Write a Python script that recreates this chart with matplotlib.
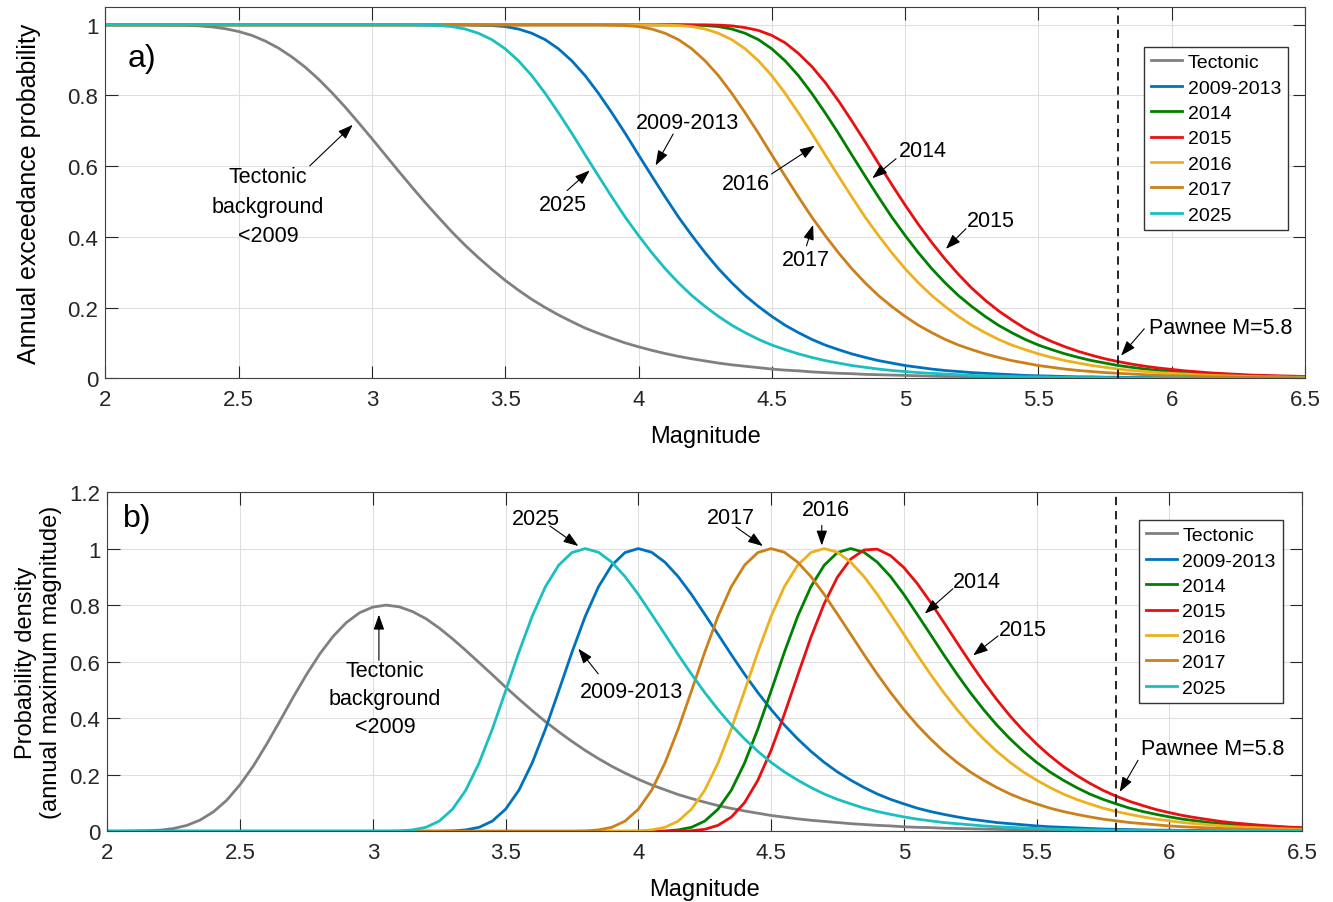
import numpy as np
import matplotlib.pyplot as plt

plt.rcParams['font.family'] = ['Liberation Sans', 'DejaVu Sans']

# magnitude samples (2.0 to 6.5, every 0.05)
mag = np.linspace(2.0, 6.5, 91)

labels = ['Tectonic', '2009-2013', '2014', '2015', '2016', '2017', '2025']
colors = ['#808080', '#0072BD', '#008000', '#E81010', '#EDB120', '#CC801A', '#1ABFBF']

# a) annual exceedance probability
exceed_tectonic = [
    1.000, 1.000, 1.000, 1.000, 1.000, 0.999, 0.999, 0.997, 0.994, 0.989,
    0.981, 0.970, 0.954, 0.934, 0.909, 0.880, 0.846, 0.808, 0.767, 0.723,
    0.678, 0.632, 0.586, 0.541, 0.497, 0.455, 0.414, 0.376, 0.341, 0.308,
    0.277, 0.249, 0.223, 0.200, 0.179, 0.160, 0.142, 0.127, 0.113, 0.100,
    0.089, 0.079, 0.070, 0.062, 0.055, 0.049, 0.043, 0.038, 0.034, 0.030,
    0.026, 0.023, 0.021, 0.018, 0.016, 0.014, 0.013, 0.011, 0.010, 0.009,
    0.008, 0.007, 0.006, 0.005, 0.005, 0.004, 0.004, 0.003, 0.003, 0.002,
    0.002, 0.002, 0.002, 0.001, 0.001, 0.001, 0.001, 0.001, 0.001, 0.001,
    0.001, 0.001, 0, 0, 0, 0, 0, 0, 0, 0,
    0]
exceed_0913 = [
    1, 1, 1, 1, 1, 1, 1, 1, 1, 1,
    1, 1, 1, 1, 1, 1, 1, 1, 1, 1,
    1, 1, 1, 1, 1, 1, 1, 1, 0.999, 0.998,
    0.995, 0.988, 0.976, 0.958, 0.932, 0.898, 0.856, 0.806, 0.751, 0.693,
    0.632, 0.572, 0.513, 0.456, 0.404, 0.355, 0.310, 0.270, 0.234, 0.203,
    0.175, 0.150, 0.129, 0.110, 0.094, 0.081, 0.069, 0.059, 0.050, 0.043,
    0.036, 0.031, 0.026, 0.022, 0.019, 0.016, 0.014, 0.012, 0.010, 0.008,
    0.007, 0.006, 0.005, 0.004, 0.004, 0.003, 0.003, 0.002, 0.002, 0.002,
    0.001, 0.001, 0.001, 0.001, 0.001, 0.001, 0, 0, 0, 0,
    0]
exceed_2014 = [
    1, 1, 1, 1, 1, 1, 1, 1, 1, 1,
    1, 1, 1, 1, 1, 1, 1, 1, 1, 1,
    1, 1, 1, 1, 1, 1, 1, 1, 1, 1,
    1, 1, 1, 1, 1, 1, 1, 1, 1, 1,
    1, 1, 1, 1, 0.999, 0.998, 0.995, 0.988, 0.976, 0.958,
    0.932, 0.898, 0.856, 0.806, 0.751, 0.693, 0.632, 0.572, 0.513, 0.456,
    0.404, 0.355, 0.310, 0.270, 0.234, 0.203, 0.175, 0.150, 0.129, 0.110,
    0.094, 0.081, 0.069, 0.059, 0.050, 0.043, 0.036, 0.031, 0.026, 0.022,
    0.019, 0.016, 0.014, 0.012, 0.010, 0.008, 0.007, 0.006, 0.005, 0.004,
    0.004]
exceed_2015 = [
    1, 1, 1, 1, 1, 1, 1, 1, 1, 1,
    1, 1, 1, 1, 1, 1, 1, 1, 1, 1,
    1, 1, 1, 1, 1, 1, 1, 1, 1, 1,
    1, 1, 1, 1, 1, 1, 1, 1, 1, 1,
    1, 1, 1, 1, 1, 1, 0.999, 0.997, 0.992, 0.984,
    0.970, 0.949, 0.919, 0.882, 0.837, 0.785, 0.728, 0.669, 0.608, 0.548,
    0.490, 0.435, 0.384, 0.337, 0.294, 0.255, 0.221, 0.191, 0.165, 0.141,
    0.121, 0.104, 0.089, 0.076, 0.065, 0.055, 0.047, 0.040, 0.034, 0.029,
    0.025, 0.021, 0.018, 0.015, 0.013, 0.011, 0.009, 0.008, 0.007, 0.006,
    0.005]
exceed_2016 = [
    1, 1, 1, 1, 1, 1, 1, 1, 1, 1,
    1, 1, 1, 1, 1, 1, 1, 1, 1, 1,
    1, 1, 1, 1, 1, 1, 1, 1, 1, 1,
    1, 1, 1, 1, 1, 1, 1, 1, 1, 1,
    1, 1, 0.999, 0.998, 0.995, 0.988, 0.976, 0.958, 0.932, 0.898,
    0.856, 0.806, 0.751, 0.693, 0.632, 0.572, 0.513, 0.456, 0.404, 0.355,
    0.310, 0.270, 0.234, 0.203, 0.175, 0.150, 0.129, 0.110, 0.094, 0.081,
    0.069, 0.059, 0.050, 0.043, 0.036, 0.031, 0.026, 0.022, 0.019, 0.016,
    0.014, 0.012, 0.010, 0.008, 0.007, 0.006, 0.005, 0.004, 0.004, 0.003,
    0.003]
exceed_2017 = [
    1, 1, 1, 1, 1, 1, 1, 1, 1, 1,
    1, 1, 1, 1, 1, 1, 1, 1, 1, 1,
    1, 1, 1, 1, 1, 1, 1, 1, 1, 1,
    1, 1, 1, 1, 1, 1, 1, 1, 0.999, 0.998,
    0.995, 0.988, 0.976, 0.958, 0.932, 0.898, 0.856, 0.806, 0.751, 0.693,
    0.632, 0.572, 0.513, 0.456, 0.404, 0.355, 0.310, 0.270, 0.234, 0.203,
    0.175, 0.150, 0.129, 0.110, 0.094, 0.081, 0.069, 0.059, 0.050, 0.043,
    0.036, 0.031, 0.026, 0.022, 0.019, 0.016, 0.014, 0.012, 0.010, 0.008,
    0.007, 0.006, 0.005, 0.004, 0.004, 0.003, 0.003, 0.002, 0.002, 0.002,
    0.001]
exceed_2025 = [
    1, 1, 1, 1, 1, 1, 1, 1, 1, 1,
    1, 1, 1, 1, 1, 1, 1, 1, 1, 1,
    1, 1, 1, 1, 0.999, 0.998, 0.995, 0.988, 0.976, 0.958,
    0.932, 0.898, 0.856, 0.806, 0.751, 0.693, 0.632, 0.572, 0.513, 0.456,
    0.404, 0.355, 0.310, 0.270, 0.234, 0.203, 0.175, 0.150, 0.129, 0.110,
    0.094, 0.081, 0.069, 0.059, 0.050, 0.043, 0.036, 0.031, 0.026, 0.022,
    0.019, 0.016, 0.014, 0.012, 0.010, 0.008, 0.007, 0.006, 0.005, 0.004,
    0.004, 0.003, 0.003, 0.002, 0.002, 0.002, 0.001, 0.001, 0.001, 0.001,
    0.001, 0.001, 0, 0, 0, 0, 0, 0, 0, 0,
    0]

# b) probability density of annual maximum magnitude
density_tectonic = [
    0, 0, 0.001, 0.002, 0.004, 0.010, 0.021, 0.040, 0.069, 0.110,
    0.165, 0.231, 0.308, 0.390, 0.474, 0.554, 0.627, 0.689, 0.738, 0.773,
    0.793, 0.800, 0.794, 0.777, 0.752, 0.719, 0.681, 0.640, 0.597, 0.554,
    0.510, 0.468, 0.427, 0.388, 0.352, 0.318, 0.286, 0.257, 0.230, 0.206,
    0.184, 0.164, 0.147, 0.130, 0.116, 0.103, 0.091, 0.081, 0.072, 0.064,
    0.056, 0.050, 0.044, 0.039, 0.035, 0.031, 0.027, 0.024, 0.021, 0.019,
    0.016, 0.014, 0.013, 0.011, 0.010, 0.009, 0.008, 0.007, 0.006, 0.005,
    0.005, 0.004, 0.004, 0.003, 0.003, 0.003, 0.002, 0.002, 0.002, 0.002,
    0.001, 0.001, 0.001, 0.001, 0.001, 0.001, 0.001, 0.001, 0, 0,
    0]
density_0913 = [
    0, 0, 0, 0, 0, 0, 0, 0, 0, 0,
    0, 0, 0, 0, 0, 0, 0, 0, 0, 0,
    0, 0, 0, 0, 0, 0, 0.001, 0.005, 0.014, 0.036,
    0.078, 0.145, 0.241, 0.361, 0.496, 0.633, 0.760, 0.865, 0.941, 0.986,
    1.000, 0.987, 0.952, 0.901, 0.838, 0.768, 0.697, 0.625, 0.556, 0.491,
    0.431, 0.376, 0.327, 0.283, 0.244, 0.210, 0.181, 0.155, 0.132, 0.113,
    0.097, 0.082, 0.070, 0.060, 0.051, 0.043, 0.037, 0.031, 0.027, 0.023,
    0.019, 0.016, 0.014, 0.012, 0.010, 0.008, 0.007, 0.006, 0.005, 0.004,
    0.004, 0.003, 0.003, 0.002, 0.002, 0.002, 0.001, 0.001, 0.001, 0.001,
    0.001]
density_2014 = [
    0, 0, 0, 0, 0, 0, 0, 0, 0, 0,
    0, 0, 0, 0, 0, 0, 0, 0, 0, 0,
    0, 0, 0, 0, 0, 0, 0, 0, 0, 0,
    0, 0, 0, 0, 0, 0, 0, 0, 0, 0,
    0, 0, 0.001, 0.005, 0.014, 0.036, 0.078, 0.145, 0.241, 0.361,
    0.496, 0.633, 0.760, 0.865, 0.941, 0.986, 1.000, 0.987, 0.952, 0.901,
    0.838, 0.768, 0.697, 0.625, 0.556, 0.491, 0.431, 0.376, 0.327, 0.283,
    0.244, 0.210, 0.181, 0.155, 0.132, 0.113, 0.097, 0.082, 0.070, 0.060,
    0.051, 0.043, 0.037, 0.031, 0.027, 0.023, 0.019, 0.016, 0.014, 0.012,
    0.010]
density_2015 = [
    0, 0, 0, 0, 0, 0, 0, 0, 0, 0,
    0, 0, 0, 0, 0, 0, 0, 0, 0, 0,
    0, 0, 0, 0, 0, 0, 0, 0, 0, 0,
    0, 0, 0, 0, 0, 0, 0, 0, 0, 0,
    0, 0, 0, 0, 0.002, 0.007, 0.021, 0.050, 0.101, 0.180,
    0.286, 0.414, 0.551, 0.686, 0.805, 0.899, 0.963, 0.995, 0.998, 0.975,
    0.933, 0.877, 0.811, 0.740, 0.668, 0.597, 0.529, 0.466, 0.408, 0.356,
    0.309, 0.267, 0.230, 0.198, 0.170, 0.145, 0.124, 0.106, 0.091, 0.077,
    0.066, 0.056, 0.048, 0.041, 0.034, 0.029, 0.025, 0.021, 0.018, 0.015,
    0.013]
density_2016 = [
    0, 0, 0, 0, 0, 0, 0, 0, 0, 0,
    0, 0, 0, 0, 0, 0, 0, 0, 0, 0,
    0, 0, 0, 0, 0, 0, 0, 0, 0, 0,
    0, 0, 0, 0, 0, 0, 0, 0, 0, 0,
    0.001, 0.005, 0.014, 0.036, 0.078, 0.145, 0.241, 0.361, 0.496, 0.633,
    0.760, 0.865, 0.941, 0.986, 1.000, 0.987, 0.952, 0.901, 0.838, 0.768,
    0.697, 0.625, 0.556, 0.491, 0.431, 0.376, 0.327, 0.283, 0.244, 0.210,
    0.181, 0.155, 0.132, 0.113, 0.097, 0.082, 0.070, 0.060, 0.051, 0.043,
    0.037, 0.031, 0.027, 0.023, 0.019, 0.016, 0.014, 0.012, 0.010, 0.008,
    0.007]
density_2017 = [
    0, 0, 0, 0, 0, 0, 0, 0, 0, 0,
    0, 0, 0, 0, 0, 0, 0, 0, 0, 0,
    0, 0, 0, 0, 0, 0, 0, 0, 0, 0,
    0, 0, 0, 0, 0, 0, 0.001, 0.005, 0.014, 0.036,
    0.078, 0.145, 0.241, 0.361, 0.496, 0.633, 0.760, 0.865, 0.941, 0.986,
    1.000, 0.987, 0.952, 0.901, 0.838, 0.768, 0.697, 0.625, 0.556, 0.491,
    0.431, 0.376, 0.327, 0.283, 0.244, 0.210, 0.181, 0.155, 0.132, 0.113,
    0.097, 0.082, 0.070, 0.060, 0.051, 0.043, 0.037, 0.031, 0.027, 0.023,
    0.019, 0.016, 0.014, 0.012, 0.010, 0.008, 0.007, 0.006, 0.005, 0.004,
    0.004]
density_2025 = [
    0, 0, 0, 0, 0, 0, 0, 0, 0, 0,
    0, 0, 0, 0, 0, 0, 0, 0, 0, 0,
    0, 0, 0.001, 0.005, 0.014, 0.036, 0.078, 0.145, 0.241, 0.361,
    0.496, 0.633, 0.760, 0.865, 0.941, 0.986, 1.000, 0.987, 0.952, 0.901,
    0.838, 0.768, 0.697, 0.625, 0.556, 0.491, 0.431, 0.376, 0.327, 0.283,
    0.244, 0.210, 0.181, 0.155, 0.132, 0.113, 0.097, 0.082, 0.070, 0.060,
    0.051, 0.043, 0.037, 0.031, 0.027, 0.023, 0.019, 0.016, 0.014, 0.012,
    0.010, 0.008, 0.007, 0.006, 0.005, 0.004, 0.004, 0.003, 0.003, 0.002,
    0.002, 0.002, 0.001, 0.001, 0.001, 0.001, 0.001, 0.001, 0.001, 0,
    0]

exceedance = [exceed_tectonic, exceed_0913, exceed_2014, exceed_2015,
              exceed_2016, exceed_2017, exceed_2025]
density = [density_tectonic, density_0913, density_2014, density_2015,
           density_2016, density_2017, density_2025]

pawnee = 5.8

# text label, text position, arrow tail, arrow tip
notes_a = [
    ('Tectonic\nbackground\n<2009', (2.611, 0.487), (2.767, 0.601), (2.928, 0.717)),
    ('2025', (3.717, 0.493), (3.732, 0.531), (3.817, 0.588)),
    ('2009-2013', (4.182, 0.725), (4.130, 0.691), (4.064, 0.602)),
    ('2016', (4.402, 0.552), (4.499, 0.578), (4.661, 0.658)),
    ('2017', (4.627, 0.336), (4.630, 0.375), (4.655, 0.434)),
    ('2014', (5.066, 0.644), (4.966, 0.621), (4.877, 0.566)),
    ('2015', (5.322, 0.446), (5.228, 0.423), (5.153, 0.366)),
]
notes_b = [
    ('Tectonic\nbackground\n<2009', (3.046, 0.469), (3.023, 0.605), (3.023, 0.766)),
    ('2025', (3.615, 1.105), (3.667, 1.080), (3.774, 1.009)),
    ('2009-2013', (3.975, 0.495), (3.849, 0.557), (3.774, 0.646)),
    ('2017', (4.349, 1.111), (4.368, 1.076), (4.469, 1.009)),
    ('2016', (4.707, 1.139), (4.691, 1.082), (4.691, 1.011)),
    ('2014', (5.276, 0.884), (5.185, 0.858), (5.079, 0.770)),
    ('2015', (5.449, 0.714), (5.355, 0.691), (5.261, 0.622)),
]

fig = plt.figure(figsize=(13.33, 9.03), dpi=100)
ax1 = fig.add_axes([0.079, 0.580, 0.900, 0.411])
ax2 = fig.add_axes([0.0805, 0.0783, 0.8963, 0.3757])

edge = '#404040'
arrow_kw = dict(arrowstyle='-|>,head_length=0.7,head_width=0.25', color='k',
                lw=0.8, shrinkA=0, shrinkB=0, mutation_scale=13)
legend_kw = dict(loc='upper left', fontsize=14, fancybox=False, edgecolor='#333333',
                 framealpha=1, borderaxespad=0, handlelength=1.6, handletextpad=0.3,
                 labelspacing=0.4, borderpad=0.35)


def style_axes(ax, ymax, yticks):
    ax.set_xlim(2, 6.5)
    ax.set_ylim(0, ymax)
    ax.set_xticks(np.arange(2, 6.51, 0.5))
    ax.set_xticklabels(['2', '2.5', '3', '3.5', '4', '4.5', '5', '5.5', '6', '6.5'])
    ax.set_yticks(yticks)
    ax.set_yticklabels(['%g' % v for v in yticks])
    ax.set_axisbelow(True)
    ax.grid(True, color='#dedede', lw=0.8)
    ax.tick_params(direction='in', length=9, width=0.8, top=True, right=True,
                   labelsize=16, colors='#262626')
    ax.tick_params(axis='x', pad=8)
    ax.tick_params(axis='y', pad=5)
    for sp in ax.spines.values():
        sp.set_color(edge)
        sp.set_linewidth(0.8)


def draw_notes(ax, notes, spacing):
    for text, txy, tail, tip in notes:
        ax.text(txy[0], txy[1], text, fontsize=15.5, ha='center', va='center',
                linespacing=spacing)
        ax.annotate('', xy=tip, xytext=tail, arrowprops=arrow_kw)


# panel a
for vals, lab, col in zip(exceedance, labels, colors):
    ax1.plot(mag, vals, color=col, lw=2.0, label=lab, solid_joinstyle='round')
ax1.axvline(pawnee, color='k', lw=1.2, ls=(0, (5, 3.5)))
style_axes(ax1, 1.05, [0, 0.2, 0.4, 0.6, 0.8, 1.0])
ax1.set_xlabel('Magnitude', fontsize=17)
ax1.set_ylabel('Annual exceedance probability', fontsize=18)
ax1.xaxis.set_label_coords(0.5, -0.126)
ax1.yaxis.set_label_coords(-0.054, 0.5)
ax1.text(2.085, 0.907, 'a)', fontsize=23, va='center')
draw_notes(ax1, notes_a, 1.55)
ax1.text(5.916, 0.144, 'Pawnee M=5.8', fontsize=15.5, ha='left', va='center')
ax1.annotate('', xy=(5.810, 0.064), xytext=(5.897, 0.140), arrowprops=arrow_kw)
ax1.legend(bbox_to_anchor=(0.8658, 0.893), **legend_kw)

# panel b
for vals, lab, col in zip(density, labels, colors):
    ax2.plot(mag, vals, color=col, lw=2.0, label=lab, solid_joinstyle='round')
ax2.axvline(pawnee, color='k', lw=1.2, ls=(0, (5, 3.5)))
style_axes(ax2, 1.2, [0, 0.2, 0.4, 0.6, 0.8, 1.0, 1.2])
ax2.set_xlabel('Magnitude', fontsize=17)
ax2.set_ylabel('Probability density\n(annual maximum magnitude)', fontsize=17)
ax2.xaxis.set_label_coords(0.5, -0.138)
ax2.yaxis.set_label_coords(-0.038, 0.5)
ax2.text(2.06, 1.108, 'b)', fontsize=23, va='center')
draw_notes(ax2, notes_b, 1.45)
ax2.text(5.895, 0.292, 'Pawnee M=5.8', fontsize=15.5, ha='left', va='center')
ax2.annotate('', xy=(5.813, 0.139), xytext=(5.882, 0.251), arrowprops=arrow_kw)
ax2.legend(bbox_to_anchor=(0.8633, 0.918), **legend_kw)

fig.savefig('out.png', dpi=100)
